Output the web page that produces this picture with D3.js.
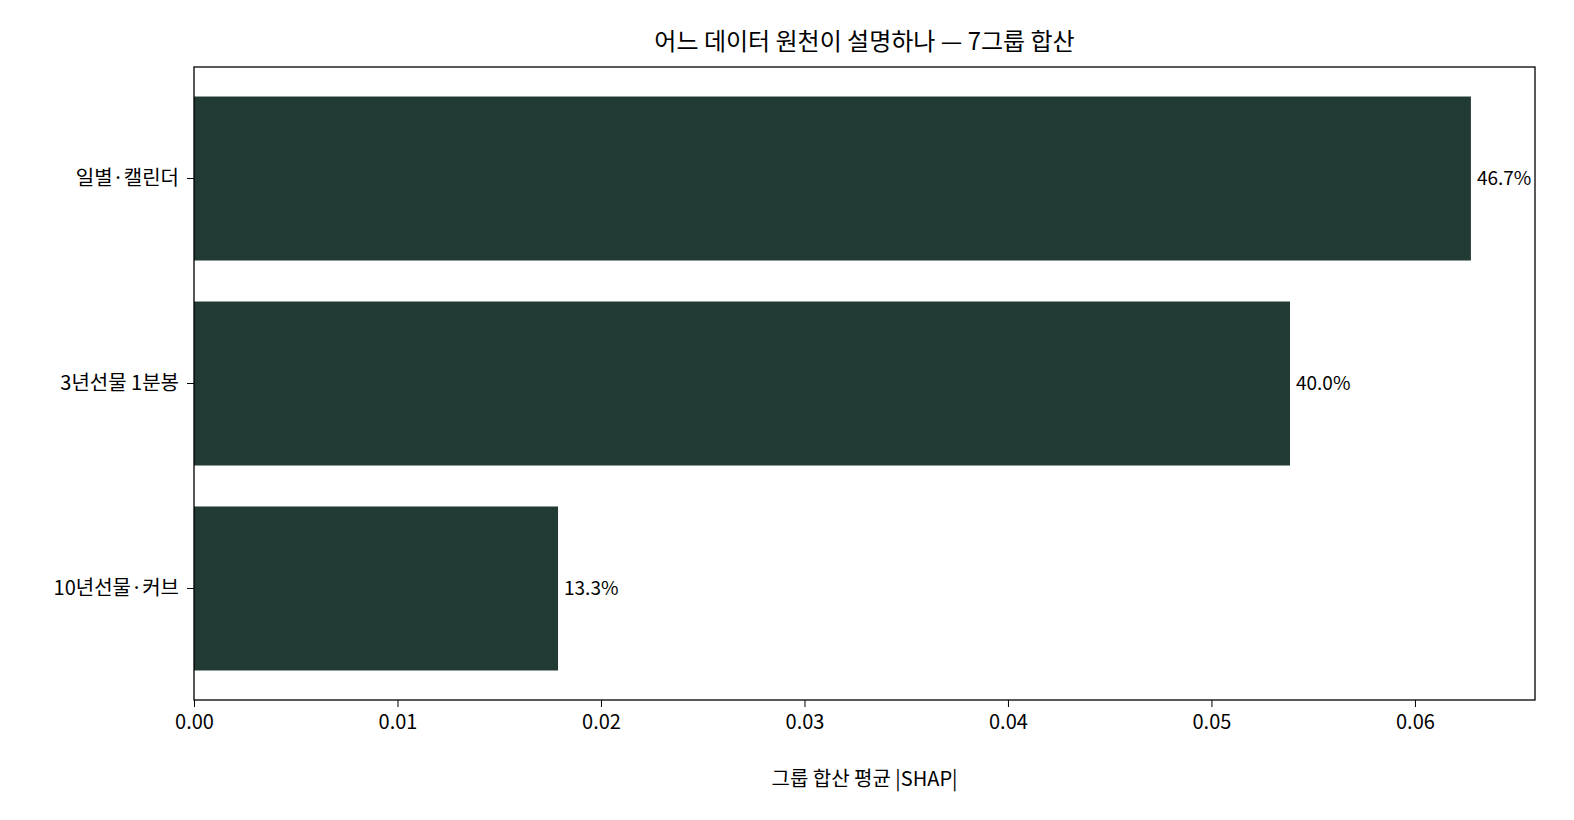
<!DOCTYPE html>
<html><head><meta charset="utf-8">
<script src="https://cdn.jsdelivr.net/npm/d3@7"></script>
<style>body{margin:0;background:#fff;font-family:"Noto Sans CJK KR",Inter,sans-serif;}</style>
</head><body>
<svg id="chart" width="1574" height="820"></svg>
<script>
// data
const groups = ["일별·캘린더", "3년선물 1분봉", "10년선물·커브"];
const shapValues = [0.06275, 0.05386, 0.01789];
const shareLabels = ["46.7%", "40.0%", "13.3%"];
const xTicks = [0, 0.01, 0.02, 0.03, 0.04, 0.05, 0.06];

const svg = d3.select("#chart");
const plotLeft = 194, plotRight = 1535, plotTop = 67, plotBottom = 700;

const x = d3.scaleLinear().domain([0, 0.0659]).range([plotLeft, plotRight]);
const y = d3.scaleBand().domain(groups).range([plotTop, plotBottom]).paddingInner(0.2).paddingOuter(0.144);

svg.selectAll("rect.bar").data(groups).enter().append("rect")
  .attr("x", x(0))
  .attr("y", d => y(d))
  .attr("width", (d, i) => x(shapValues[i]) - x(0))
  .attr("height", y.bandwidth())
  .attr("fill", "#213a33");

svg.selectAll("text.val").data(groups).enter().append("text")
  .attr("x", (d, i) => x(shapValues[i]) + 6)
  .attr("y", d => y(d) + y.bandwidth() / 2)
  .attr("dy", "0.35em")
  .attr("font-size", 19)
  .text((d, i) => shareLabels[i]);

// frame
svg.append("rect").attr("x", plotLeft).attr("y", plotTop).attr("width", plotRight - plotLeft).attr("height", plotBottom - plotTop)
  .attr("fill", "none").attr("stroke", "#000").attr("stroke-width", 1.3);

const xAxis = svg.append("g").attr("transform", `translate(0,${plotBottom})`)
  .call(d3.axisBottom(x).tickValues(xTicks).tickFormat(d3.format(".2f")).tickSizeOuter(0).tickSize(7).tickPadding(8));
xAxis.select(".domain").remove();
xAxis.selectAll("text").attr("font-size", 20).attr("fill", "#000").attr("font-family", "Noto Sans CJK KR");

const yAxis = svg.append("g").attr("transform", `translate(${plotLeft},0)`)
  .call(d3.axisLeft(y).tickSizeOuter(0).tickSize(7).tickPadding(8));
yAxis.select(".domain").remove();
yAxis.selectAll("text").attr("font-size", 20).attr("fill", "#000").attr("font-family", "Noto Sans CJK KR");

svg.append("text").attr("x", (plotLeft + plotRight) / 2).attr("y", 50).attr("text-anchor", "middle")
  .attr("font-size", 24).text("어느 데이터 원천이 설명하나 — 7그룹 합산");

svg.append("text").attr("x", (plotLeft + plotRight) / 2).attr("y", 786).attr("text-anchor", "middle")
  .attr("font-size", 20).text("그룹 합산 평균 |SHAP|");
</script>
</body></html>
